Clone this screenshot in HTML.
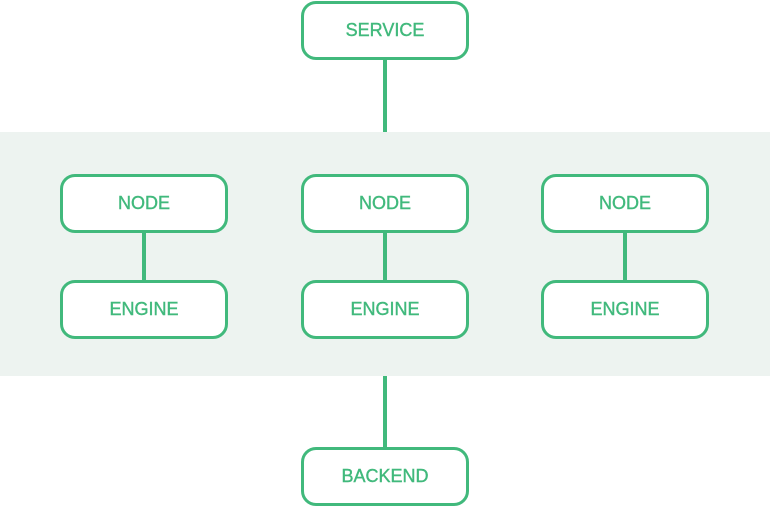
<!DOCTYPE html>
<html><head><style>
body{margin:0;width:770px;height:507px;background:#fff;position:relative;overflow:hidden;font-family:"Liberation Sans",sans-serif}
.band{position:absolute;left:0;top:132px;width:770px;height:244px;background:#edf3f0}
.b{position:absolute;width:162px;height:53px;border:3px solid #41b97c;border-radius:15px;background:#fff;color:#41b97c;font-size:18px;-webkit-text-stroke:0.4px #41b97c;display:flex;align-items:center;justify-content:center;box-sizing:content-box}
.l{position:absolute;width:4px;background:#41b97c}
</style></head><body>
<div class="band"></div>
<div class="l" style="left:383px;top:58px;height:74px"></div>
<div class="l" style="left:383px;top:376px;height:72px"></div>
<div class="l" style="left:142px;top:231px;height:50px"></div>
<div class="l" style="left:383px;top:231px;height:50px"></div>
<div class="l" style="left:623px;top:231px;height:50px"></div>
<div class="b" style="left:301px;top:1px">SERVICE</div>
<div class="b" style="left:60px;top:174px">NODE</div>
<div class="b" style="left:301px;top:174px">NODE</div>
<div class="b" style="left:541px;top:174px">NODE</div>
<div class="b" style="left:60px;top:280px">ENGINE</div>
<div class="b" style="left:301px;top:280px">ENGINE</div>
<div class="b" style="left:541px;top:280px">ENGINE</div>
<div class="b" style="left:301px;top:447px">BACKEND</div>
</body></html>
